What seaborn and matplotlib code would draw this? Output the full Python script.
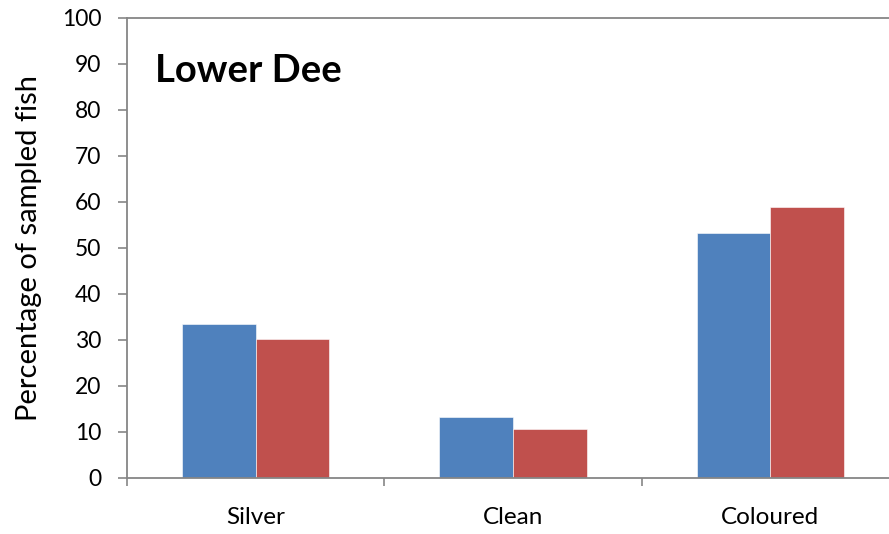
import matplotlib
matplotlib.use("Agg")
import matplotlib.pyplot as plt
import seaborn as sns
import pandas as pd

categories = ["Silver", "Clean", "Coloured"]
series_names = ["Sample 1", "Sample 2"]
series_a = [33.5, 13.3, 53.2]
series_b = [30.2, 10.7, 59.0]
y_ticks = list(range(0, 101, 10))

colors = ["#4F81BD", "#C0504D"]
axis_grey = "#868686"

sns.set_theme(style="white")
plt.rcParams["font.family"] = ["Lato", "DejaVu Sans"]
plt.rcParams["text.color"] = "black"
plt.rcParams["axes.labelcolor"] = "black"
plt.rcParams["xtick.labelcolor"] = "black"
plt.rcParams["ytick.labelcolor"] = "black"

df = pd.DataFrame({
    "category": categories * 2,
    "series": [series_names[0]] * 3 + [series_names[1]] * 3,
    "value": series_a + series_b,
})

fig = plt.figure(figsize=(8.89, 5.34), dpi=100)
ax = fig.add_axes([127 / 889, 56 / 534, 772 / 889, 460 / 534])

sns.barplot(data=df, x="category", y="value", hue="series",
            order=categories, hue_order=series_names,
            palette=colors, width=0.572, gap=0, dodge=True,
            edgecolor="white", linewidth=0.4, saturation=1,
            legend=False, ax=ax)

ax.set_xlim(-0.5, 2.5)
ax.set_ylim(0, 100)
ax.set_yticks(y_ticks)
ax.set_yticklabels([str(t) for t in y_ticks], fontsize=16.5, color="black")

# category boundaries carry the tick marks, centres carry the labels
ax.set_xticks([-0.5, 0.5, 1.5, 2.5])
ax.set_xticklabels([])
ax.set_xticks([0, 1, 2], minor=True)
ax.set_xticklabels(categories, minor=True, fontsize=17.5, color="black")
ax.tick_params(axis="x", which="major", direction="out", length=6,
               width=1.2, color=axis_grey, bottom=True)
ax.tick_params(axis="x", which="minor", length=0, pad=21, bottom=True)
ax.tick_params(axis="y", direction="out", length=6.5, width=1.2,
               color=axis_grey, pad=12, left=True)

ax.set_xlabel("")
ax.set_ylabel("Percentage of sampled fish", fontsize=21, labelpad=14,
              color="black")

for side in ["left", "bottom", "top"]:
    ax.spines[side].set_color(axis_grey)
    ax.spines[side].set_linewidth(1.3)
ax.spines["right"].set_visible(False)

ax.text(0.036, 0.885, "Lower Dee", transform=ax.transAxes,
        fontsize=27.5, fontweight="bold", ha="left", va="center",
        color="black")

fig.savefig("out.png", dpi=100)
